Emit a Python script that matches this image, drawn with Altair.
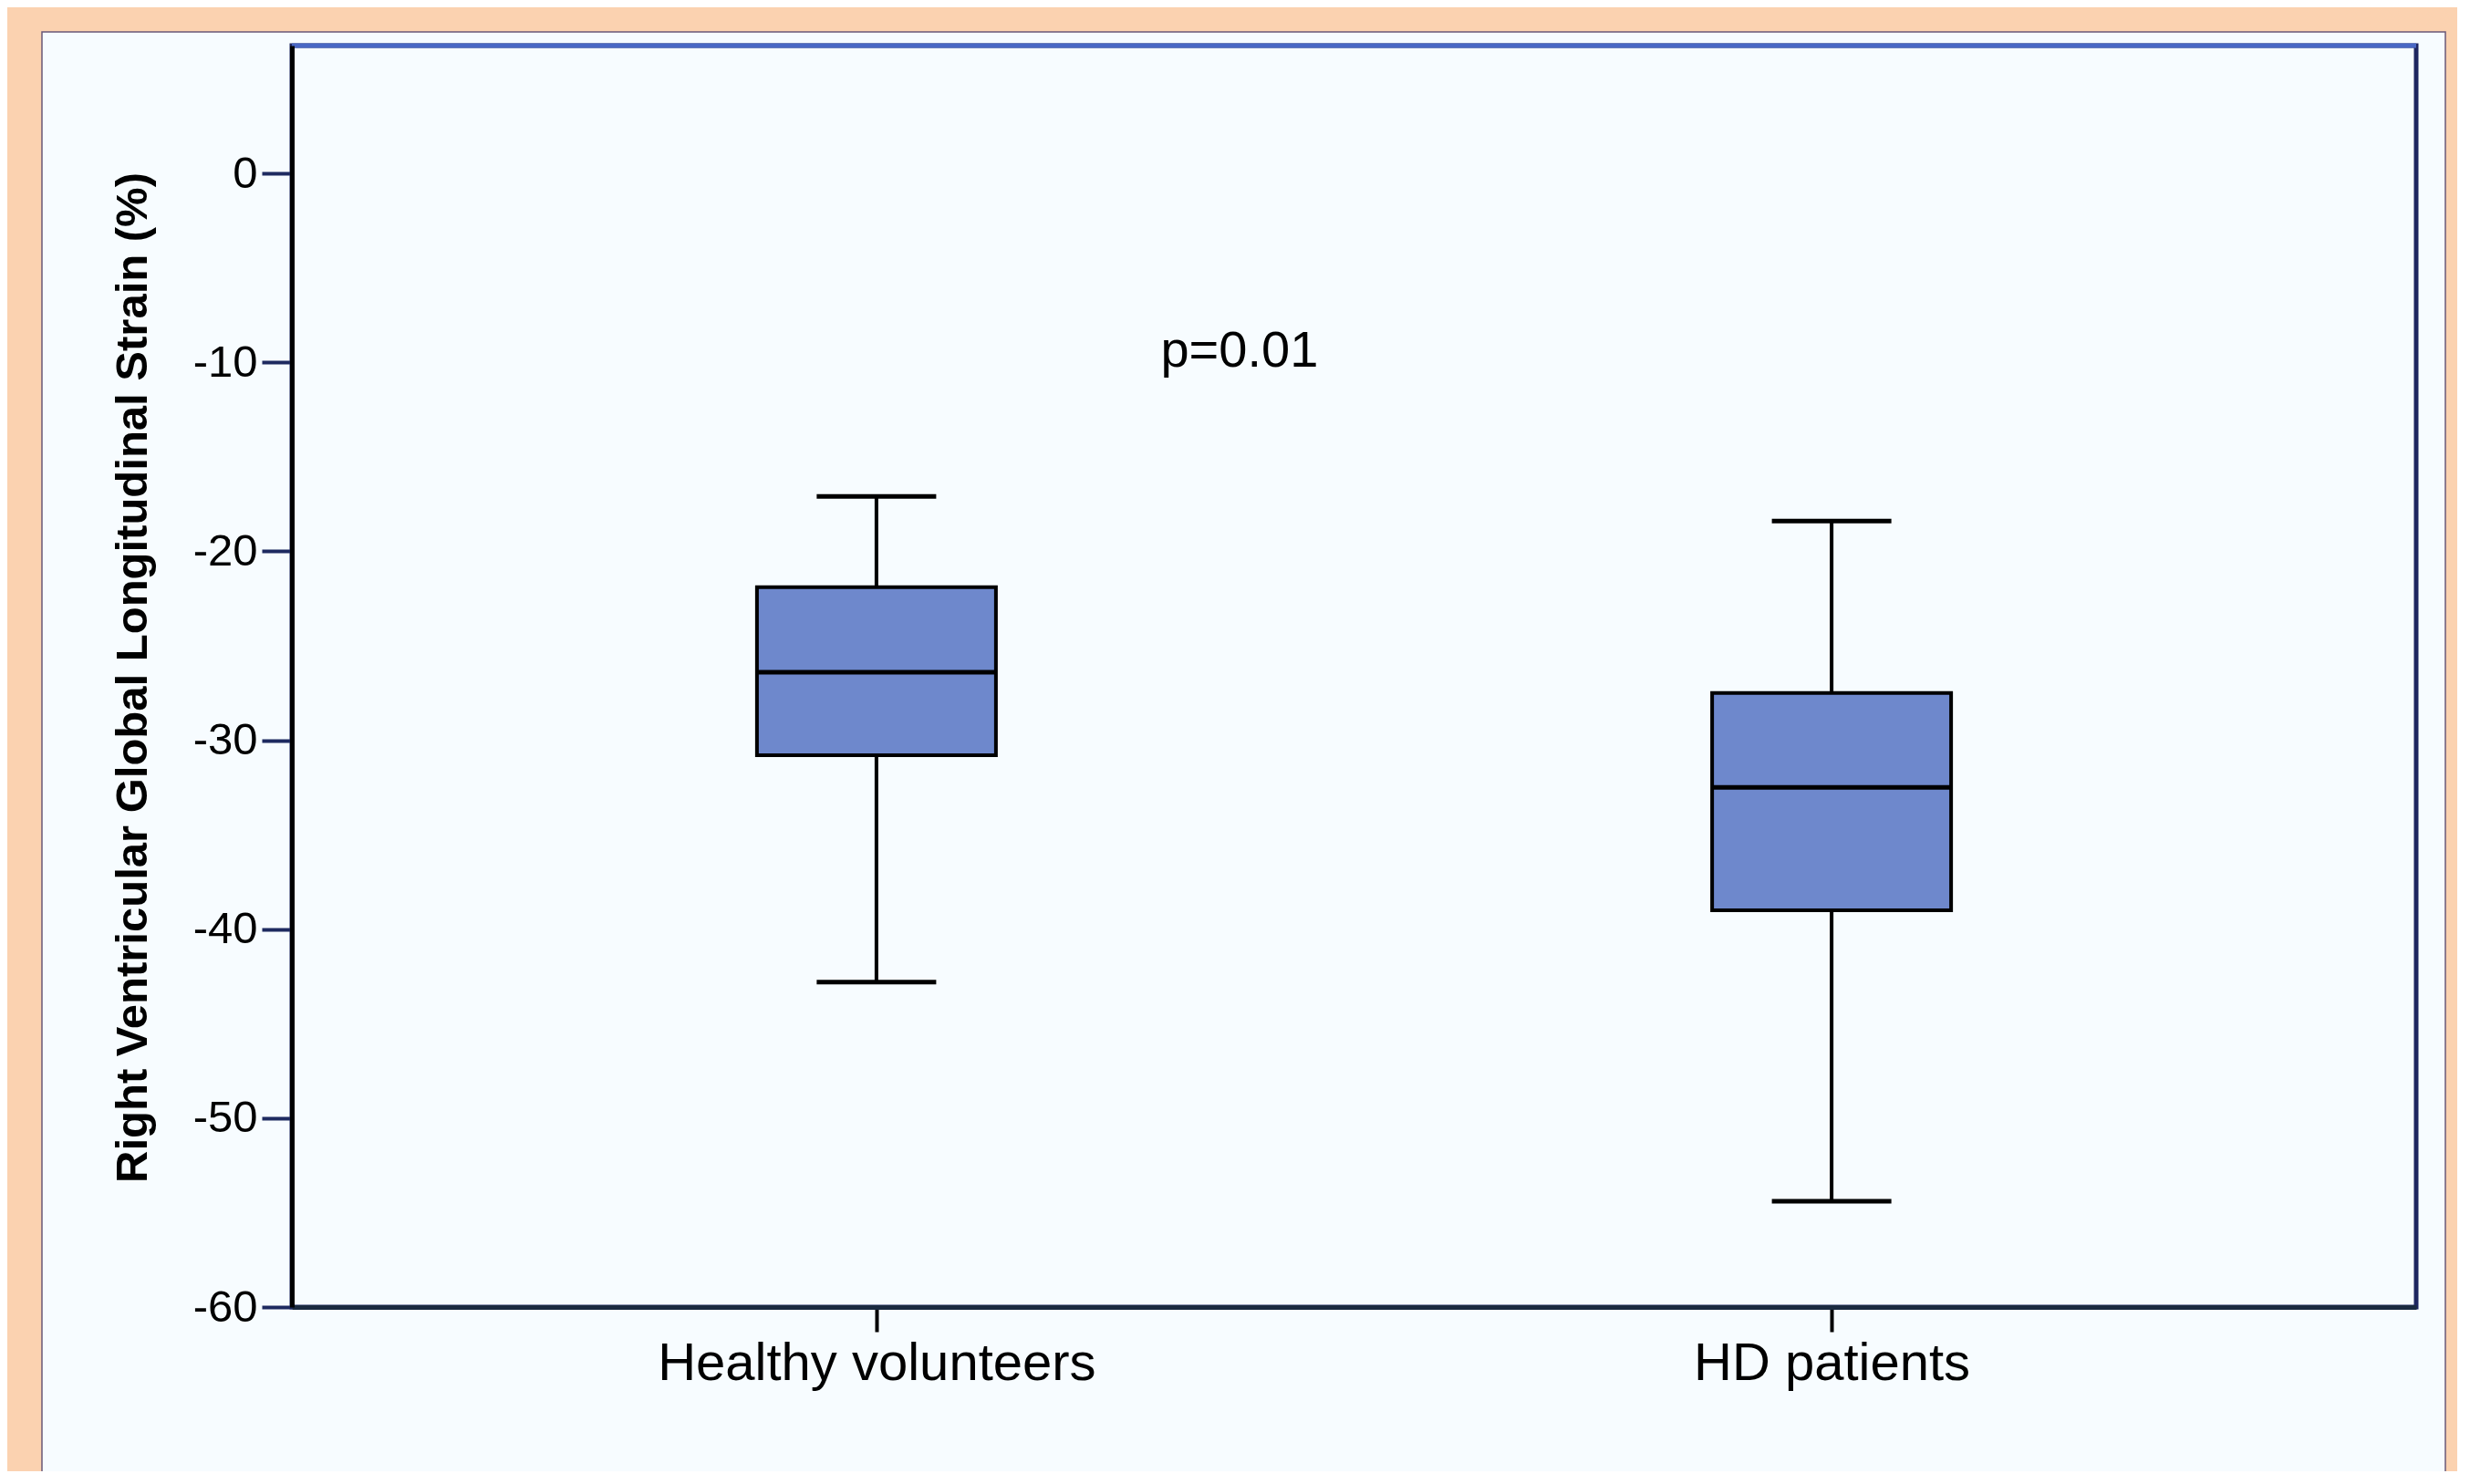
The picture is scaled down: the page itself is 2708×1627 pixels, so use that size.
import altair as alt
import pandas as pd

# ---- data ----
groups = ["Healthy volunteers", "HD patients"]
whisker_low = [-42.8, -54.4]
q1 = [-30.8, -39.0]
median = [-26.4, -32.5]
q3 = [-21.9, -27.5]
whisker_high = [-17.1, -18.4]
y_ticks = [-60, -50, -40, -30, -20, -10, 0]
y_domain = [-60, 6.76]
annot_text = ["p=0.01"]
annot_y = [-10.25]

df = pd.DataFrame({
    "group": groups,
    "low": whisker_low,
    "q1": q1,
    "median": median,
    "q3": q3,
    "high": whisker_high,
})
ann = pd.DataFrame({"group": [groups[0]], "label": annot_text, "y": annot_y})

W, H = 2329, 1383
PEACH = "#FBD2B0"
PANEL = "#F7FCFF"
BOXFILL = "#6E88CC"

xenc = alt.X("group:N", sort=groups,
             scale=alt.Scale(type="point", padding=0.612),
             axis=alt.Axis(title=None, labelAngle=0, labelFont="Liberation Sans",
                           labelFontSize=58, labelColor="#000000", labelPadding=6,
                           labelLimit=0,
                           tickSize=27, tickWidth=4, tickColor="#000000",
                           domainColor="#1a2a40", domainWidth=5, zindex=1))
yscale = alt.Scale(domain=y_domain, nice=False, zero=False)
yaxis = alt.Axis(values=y_ticks, grid=False, labelFont="Liberation Sans",
                 labelExpr="toString(datum.value)",
                 labelFontSize=49, labelColor="#000000", labelPadding=5,
                 tickSize=33, tickWidth=4, tickColor="#1e2a60",
                 domainColor="#000000", domainWidth=5, zindex=1,
                 title="Right Ventricular Global Longitudinal Strain (%)",
                 titleFont="Liberation Sans",
                 titleFontWeight="bold", titleFontSize=49, titleColor="#000000",
                 titleAngle=270, titleX=-160, titleY=H / 2 + 1,
                 titleAlign="center", titleBaseline="alphabetic", titleLimit=0)

one = alt.Data(values=[{}])

panel = alt.Chart(one).mark_rect(fill=PANEL, stroke="#6a5878", strokeWidth=1.5).encode(
    x=alt.value(-274), x2=alt.value(2361), y=alt.value(-15), y2=alt.value(1600))

frame = alt.Chart(one).mark_rect(fill=None, stroke="#1e2660", strokeWidth=5).encode(
    x=alt.value(0), x2=alt.value(W), y=alt.value(0), y2=alt.value(H))
top_line = alt.Chart(one).mark_rule(color="#4a68c4", strokeWidth=5).encode(
    x=alt.value(0), x2=alt.value(W), y=alt.value(0))

base = alt.Chart(df)
upper = base.mark_rule(color="#000000", strokeWidth=4).encode(
    x=xenc, y=alt.Y("q3:Q", scale=yscale, axis=yaxis), y2="high:Q")
lower = base.mark_rule(color="#000000", strokeWidth=4).encode(
    x=xenc, y=alt.Y("low:Q", scale=yscale, axis=yaxis), y2="q1:Q")
box = base.mark_bar(size=262, fill=BOXFILL, stroke="#000000", strokeWidth=4).encode(
    x=xenc, y=alt.Y("q1:Q", scale=yscale, axis=yaxis), y2="q3:Q")
med = base.mark_tick(size=262, thickness=5, color="#000000", opacity=1).encode(
    x=xenc, y=alt.Y("median:Q", scale=yscale, axis=yaxis))
cap_hi = base.mark_tick(size=131, thickness=5, color="#000000", opacity=1).encode(
    x=xenc, y=alt.Y("high:Q", scale=yscale, axis=yaxis))
cap_lo = base.mark_tick(size=131, thickness=5, color="#000000", opacity=1).encode(
    x=xenc, y=alt.Y("low:Q", scale=yscale, axis=yaxis))

text = alt.Chart(ann).mark_text(font="Liberation Sans", fontSize=56, color="#000000",
                                align="center", baseline="alphabetic", dx=398).encode(
    x=xenc, y=alt.Y("y:Q", scale=yscale, axis=yaxis), text="label:N")

chart = alt.layer(panel, frame, top_line, upper, lower, box, med, cap_hi, cap_lo, text).properties(
    width=W, height=H,
    autosize=alt.AutoSizeParams(type="none"),
    padding={"left": 312, "top": 42, "right": 45, "bottom": 180},
    background=PEACH,
).configure_view(stroke=None, fill=None)

chart.save("out.html", embed_options={"renderer": "svg", "actions": False})
